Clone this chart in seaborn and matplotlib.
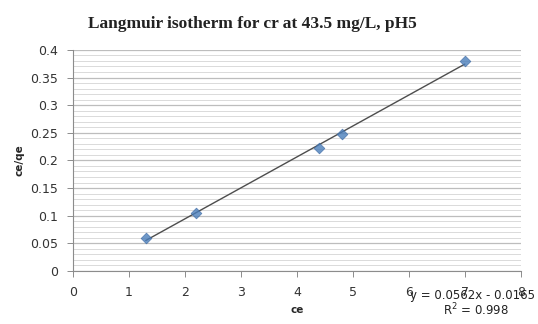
import numpy as np
import pandas as pd
import seaborn as sns
import matplotlib.pyplot as plt
from matplotlib.ticker import MultipleLocator

sns.set_style('white')

ce = [1.3, 2.2, 4.4, 4.8, 7.0]
ce_qe = [0.06, 0.105, 0.222, 0.248, 0.38]
x_ticks = [0, 1, 2, 3, 4, 5, 6, 7, 8]
y_ticks = [0, 0.05, 0.1, 0.15, 0.2, 0.25, 0.3, 0.35, 0.4]
y_labels = ['0', '0.05', '0.1', '0.15', '0.2', '0.25', '0.3', '0.35', '0.4']
equation = 'y = 0.0562x - 0.0165'
r_squared = 'R$^2$ = 0.998'


def main():
    data = pd.DataFrame({'ce': ce, 'ce/qe': ce_qe})

    fig = plt.figure(figsize=(5.38, 3.24), dpi=100)
    ax = fig.add_axes([0.1357, 0.1636, 0.8323, 0.6824])

    ax.yaxis.set_minor_locator(MultipleLocator(0.01))
    ax.grid(True, axis='y', which='major', color='#bdbdbd', linewidth=0.9)
    ax.grid(True, axis='y', which='minor', color='#dadada', linewidth=0.7)
    ax.set_axisbelow(True)

    sns.regplot(x='ce', y='ce/qe', data=data, ax=ax, ci=None,
                marker='D',
                scatter_kws={'color': '#4a7ebb', 's': 30, 'zorder': 3,
                             'edgecolors': '#3c6aa3', 'linewidths': 0.5},
                line_kws={'color': '#4d4d4d', 'linewidth': 1.0,
                          'zorder': 2})

    ax.set_xlim(0, 8)
    ax.set_ylim(0, 0.4)
    ax.set_xticks(x_ticks)
    ax.set_yticks(y_ticks)
    ax.set_yticklabels(y_labels)

    for side in ['top', 'right']:
        ax.spines[side].set_visible(False)
    for side in ['left', 'bottom']:
        ax.spines[side].set_color('#8c8c8c')
        ax.spines[side].set_linewidth(0.8)

    ax.tick_params(axis='both', which='major', direction='out', length=4,
                   width=0.7, color='#8c8c8c', labelsize=9, pad=7,
                   labelcolor='#333333', bottom=True, left=True)
    ax.tick_params(axis='y', which='minor', left=False)

    ax.set_xlabel('ce', fontsize=7.5, fontweight='bold', labelpad=4)
    ax.set_ylabel('ce/qe', fontsize=7.5, fontweight='bold', labelpad=4)

    fig.text(0.47, 0.925, 'Langmuir isotherm for cr at 43.5 mg/L, pH5',
             ha='center', va='center', fontsize=12.5, fontweight='bold',
             family='Liberation Serif', color='#222222')

    fig.text(0.878, 0.088, equation, ha='center', va='center',
             fontsize=8.5, color='#222222')
    fig.text(0.885, 0.042, r_squared, ha='center', va='center',
             fontsize=8.5, color='#222222')

    fig.savefig('out.png', dpi=100)


if __name__ == '__main__':
    main()
